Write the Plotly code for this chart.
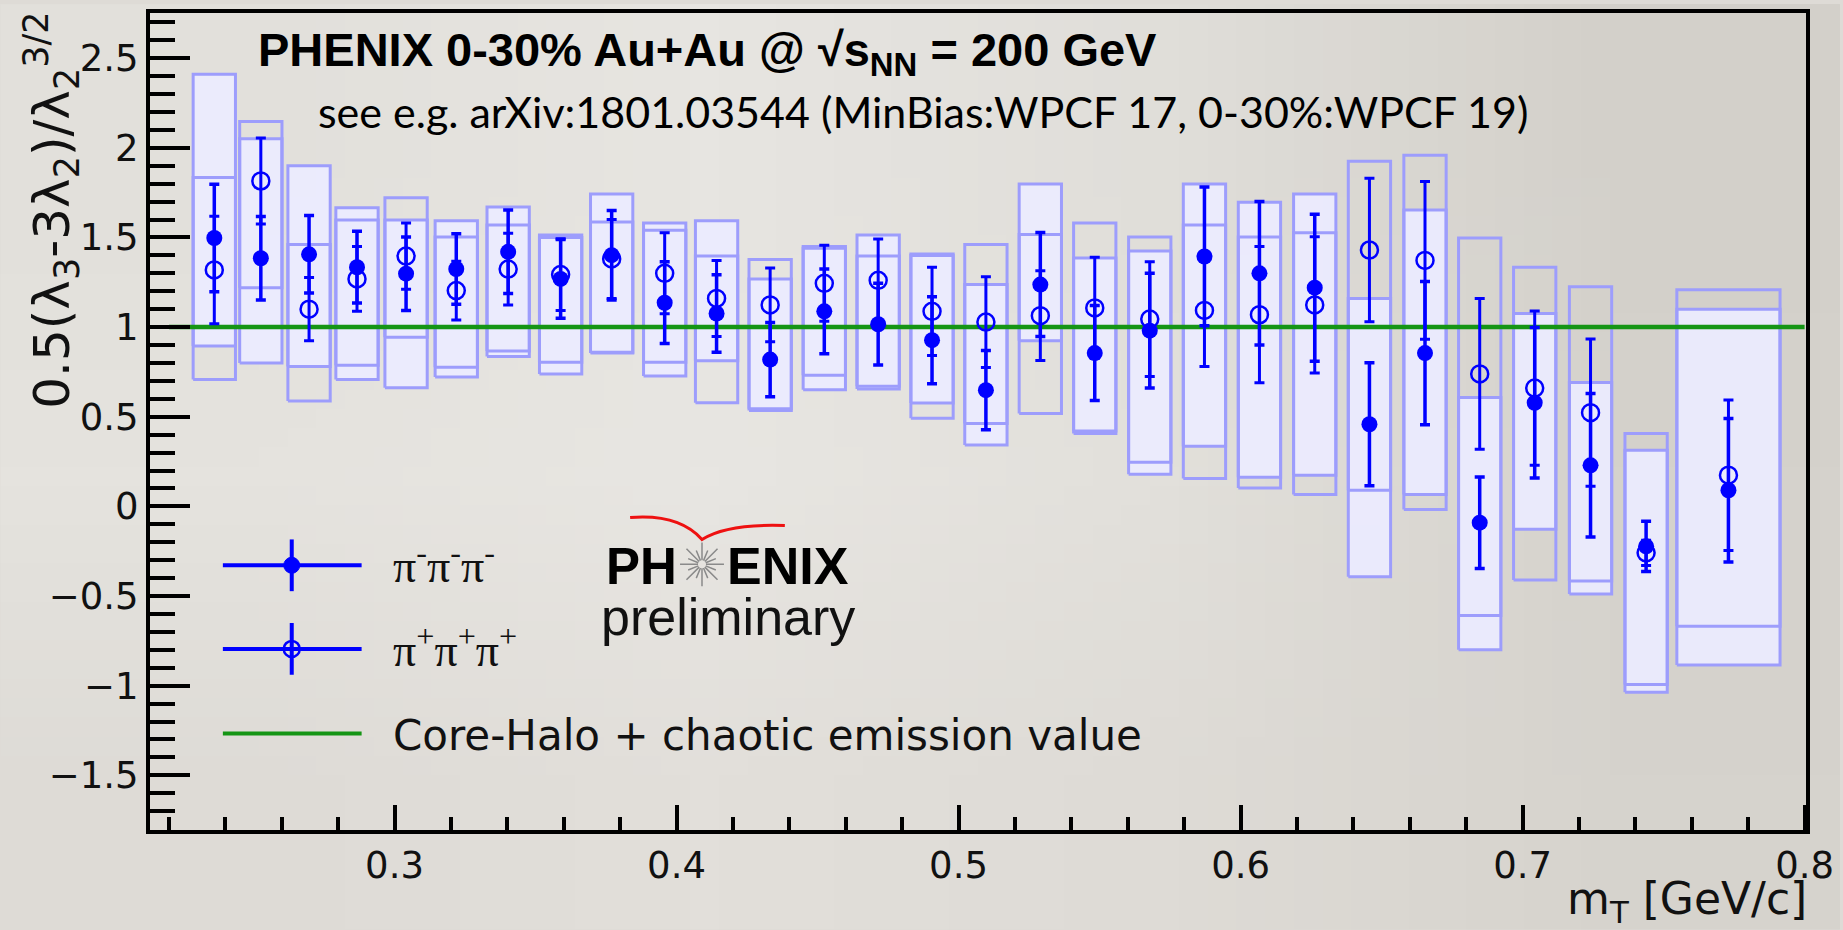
import base64
import math
import struct
import zlib

import plotly.graph_objects as go

# ---------------- data ----------------
mT = [0.2361, 0.2526, 0.2697, 0.2867, 0.3041, 0.3219, 0.3403, 0.3589, 0.3770,
      0.3958, 0.4142, 0.4332, 0.4524, 0.4715, 0.4906, 0.5097, 0.5290, 0.5483,
      0.5678, 0.5872, 0.6067, 0.6263, 0.6457, 0.6654, 0.6848, 0.7043, 0.7241,
      0.7438, 0.7730]

# pi- pi- pi- (filled markers)
neg_val = [1.497, 1.384, 1.406, 1.334, 1.298, 1.324, 1.420, 1.269, 1.401,
           1.136, 1.076, 0.819, 1.088, 1.016, 0.927, 0.648, 1.237, 0.855,
           0.980, 1.394, 1.300, 1.220, 0.458, 0.855, -0.091, 0.578, 0.229,
           -0.223, 0.090]
neg_err = [0.30, 0.233, 0.216, 0.20, 0.205, 0.197, 0.233, 0.22, 0.25,
           0.228, 0.216, 0.207, 0.236, 0.228, 0.243, 0.221, 0.29, 0.265,
           0.32, 0.387, 0.40, 0.41, 0.343, 0.40, 0.255, 0.42, 0.40,
           0.14, 0.40]
neg_sys_lo = [0.895, 0.80, 0.78, 0.708, 0.662, 0.722, 0.836, 0.739, 0.855,
              0.727, 0.812, 0.535, 0.650, 0.655, 0.576, 0.342, 0.924, 0.407,
              0.179, 0.335, 0.162, 0.174, -0.392, 0.066, -0.800, -0.127,
              -0.488, -1.036, -0.885]
neg_sys_hi = [2.411, 2.05, 1.90, 1.666, 1.598, 1.593, 1.670, 1.514, 1.743,
              1.581, 1.593, 1.269, 1.449, 1.514, 1.408, 1.237, 1.798, 1.385,
              1.425, 1.798, 1.697, 1.743, 1.160, 1.653, 0.607, 1.076,
              0.691, 0.313, 1.100]

# pi+ pi+ pi+ (open markers)
pos_val = [1.319, 1.815, 1.100, 1.269, 1.396, 1.204, 1.324, 1.293, 1.38,
           1.300, 1.160, 1.124, 1.244, 1.261, 1.088, 1.028, 1.064, 1.107,
           1.045, 1.093, 1.069, 1.124, 1.430, 1.372, 0.739, 0.660, 0.523,
           -0.259, 0.174]
pos_err = [0.30, 0.24, 0.176, 0.18, 0.185, 0.164, 0.20, 0.20, 0.22,
           0.226, 0.212, 0.205, 0.212, 0.23, 0.246, 0.253, 0.25, 0.282,
           0.32, 0.313, 0.38, 0.38, 0.40, 0.44, 0.42, 0.43, 0.41,
           0.07, 0.42]
pos_sys_lo = [0.708, 1.22, 0.588, 0.787, 0.944, 0.776, 0.867, 0.804, 0.86,
              0.804, 0.578, 0.545, 0.732, 0.67, 0.491, 0.463, 0.518, 0.42,
              0.246, 0.155, 0.102, 0.066, 0.090, -0.018, -0.608, -0.411,
              -0.416, -0.993, -0.668]
pos_sys_hi = [1.834, 2.147, 1.461, 1.598, 1.721, 1.502, 1.569, 1.50, 1.586,
              1.540, 1.396, 1.377, 1.44, 1.396, 1.40, 1.461, 1.516, 1.581,
              1.502, 1.569, 1.502, 1.526, 1.925, 1.959, 1.497, 1.334,
              1.225, 0.407, 1.208]

# half width of the systematic boxes (GeV/c)
sys_dx = [0.0075] * 28 + [0.0183]

core_halo_x = [0.22, 0.8]
core_halo_y = [1.0, 1.0]

# ---------------- geometry helpers ----------------
W, H = 1843, 930
ML, MR, MT, MB = 150, 34, 9, 100
PW = W - ML - MR
PH = H - MT - MB


def px(x):
    return (x - ML) / PW


def py(y):
    return (H - MB - y) / PH


BLUE = "#0000ff"
GREEN = "#159515"
BOX_LINE = "#9d9dfc"
BOX_FILL = "rgba(236,236,255,0.92)"


def make_png(rows):
    h = len(rows)
    w = len(rows[0])
    raw = b"".join(b"\x00" + bytes([c for px_ in r for c in px_]) for r in rows)

    def chunk(tag, data):
        c = struct.pack(">I", len(data)) + tag + data
        return c + struct.pack(">I", zlib.crc32(tag + data) & 0xFFFFFFFF)

    png = b"\x89PNG\r\n\x1a\n"
    png += chunk(b"IHDR", struct.pack(">IIBBBBB", w, h, 8, 2, 0, 0, 0))
    png += chunk(b"IDAT", zlib.compress(raw, 9))
    png += chunk(b"IEND", b"")
    return "data:image/png;base64," + base64.b64encode(png).decode()


bg_rows = [
    [(226, 224, 219), (231, 229, 225), (224, 222, 217), (211, 208, 202)],
    [(229, 227, 222), (232, 230, 226), (226, 224, 219), (213, 210, 204)],
    [(222, 219, 214), (226, 223, 218), (222, 219, 214), (214, 211, 205)],
]


def boxes(lo, hi):
    xs, ys = [], []
    for xc, dx, a, b in zip(mT, sys_dx, lo, hi):
        xs += [xc - dx, xc + dx, xc + dx, xc - dx, xc - dx, None]
        ys += [a, a, b, b, a, None]
    return xs, ys


fig = go.Figure()

bx, by = boxes(neg_sys_lo, neg_sys_hi)
fig.add_trace(go.Scatter(x=bx, y=by, mode="lines", fill="toself",
                         fillcolor=BOX_FILL,
                         line=dict(color=BOX_LINE, width=3),
                         hoverinfo="skip", showlegend=False))
bx, by = boxes(pos_sys_lo, pos_sys_hi)
fig.add_trace(go.Scatter(x=bx, y=by, mode="lines",
                         line=dict(color=BOX_LINE, width=3),
                         hoverinfo="skip", showlegend=False))

fig.add_trace(go.Scatter(x=core_halo_x, y=core_halo_y, mode="lines",
                         line=dict(color=GREEN, width=4.5),
                         name="Core-Halo + chaotic emission value",
                         showlegend=False))

fig.add_trace(go.Scatter(
    x=mT, y=neg_val, mode="markers", name="π-π-π-",
    marker=dict(symbol="circle", size=16, color=BLUE),
    error_y=dict(type="data", array=neg_err, color=BLUE, thickness=3.5, width=5),
    showlegend=False))
fig.add_trace(go.Scatter(
    x=mT, y=pos_val, mode="markers", name="π+π+π+",
    marker=dict(symbol="circle-open", size=17, color=BLUE,
                line=dict(color=BLUE, width=2.5)),
    error_y=dict(type="data", array=pos_err, color=BLUE, thickness=3, width=5),
    showlegend=False))

TICKFONT = dict(family="DejaVu Sans", size=37, color="#111111")

fig.update_layout(
    width=W, height=H,
    margin=dict(l=ML, r=MR, t=MT, b=MB, pad=0),
    paper_bgcolor="#dedbd6",
    plot_bgcolor="rgba(0,0,0,0)",
    showlegend=False,
    xaxis=dict(range=[0.2133, 0.8005], showgrid=False, zeroline=False,
               showline=True, linecolor="black", linewidth=4, mirror=True,
               ticks="inside", ticklen=25, tickwidth=4, tickcolor="black",
               tick0=0, dtick=0.1, tickfont=TICKFONT,
               minor=dict(ticks="inside", ticklen=13, tickwidth=3.5,
                          tickcolor="black", dtick=0.02)),
    yaxis=dict(range=[-1.805, 2.752], showgrid=False, zeroline=False,
               showline=True, linecolor="black", linewidth=4, mirror=True,
               ticks="inside", ticklen=40, tickwidth=4, tickcolor="black",
               tick0=0, dtick=0.5, tickfont=TICKFONT,
               minor=dict(ticks="inside", ticklen=25, tickwidth=4,
                          tickcolor="black", dtick=0.1)),
    images=[dict(source=make_png(bg_rows), xref="paper", yref="paper",
                 x=px(0), y=py(0), sizex=W / PW, sizey=H / PH,
                 xanchor="left", yanchor="top", sizing="stretch",
                 layer="below")],
)

ann = []
ann.append(dict(text="<b>PHENIX 0-30% Au+Au @ √s<sub>NN</sub> = 200 GeV</b>",
                x=px(256), y=py(49), xanchor="left", yanchor="middle",
                font=dict(family="Liberation Sans", size=47, color="black")))
ann.append(dict(text="see e.g. arXiv:1801.03544 (MinBias:WPCF 17, 0-30%:WPCF 19)",
                x=px(316), y=py(108), xanchor="left", yanchor="middle",
                font=dict(family="Lato", size=43, color="black")))
ann.append(dict(text="0.5(λ<sub>3</sub>-3λ<sub>2</sub>)/λ<sub>2</sub><sup>3/2</sup>",
                x=px(51), y=py(6), xanchor="center", yanchor="top",
                textangle=-90,
                font=dict(family="DejaVu Sans", size=50, color="#111111")))
ann.append(dict(text="m<sub>T</sub> [GeV/c]",
                x=px(1812), y=py(902), xanchor="right", yanchor="middle",
                font=dict(family="DejaVu Sans", size=44, color="#111111")))
# legend texts
LEG_Y = [564, 648, 733]
ann.append(dict(text="π<sup>-</sup>π<sup>-</sup>π<sup>-</sup>",
                x=px(391), y=py(LEG_Y[0] - 2), xanchor="left", yanchor="middle",
                font=dict(family="Liberation Serif", size=46, color="#111111")))
ann.append(dict(text="π<sup>+</sup>π<sup>+</sup>π<sup>+</sup>",
                x=px(391), y=py(LEG_Y[1] - 2), xanchor="left", yanchor="middle",
                font=dict(family="Liberation Serif", size=46, color="#111111")))
ann.append(dict(text="Core-Halo + chaotic emission value",
                x=px(391), y=py(LEG_Y[2] + 2), xanchor="left", yanchor="middle",
                font=dict(family="DejaVu Sans", size=42, color="#111111")))
# PHENIX preliminary logo
ann.append(dict(text="<b>PH</b>", x=px(680), y=py(565), xanchor="right",
                yanchor="middle",
                font=dict(family="Liberation Sans", size=51, color="black")))
ann.append(dict(text="<b>ENIX</b>", x=px(726), y=py(565), xanchor="left",
                yanchor="middle",
                font=dict(family="Liberation Sans", size=52, color="black")))
ann.append(dict(text="preliminary", x=px(600), y=py(616), xanchor="left",
                yanchor="middle",
                font=dict(family="Liberation Sans", size=52, color="#111111")))
for a in ann:
    a.update(xref="paper", yref="paper", showarrow=False)
fig.update_layout(annotations=ann)

shapes = []
# legend graphics
for i, ly in enumerate(LEG_Y):
    col = GREEN if i == 2 else BLUE
    shapes.append(dict(type="line", xref="paper", yref="paper",
                       x0=px(223), x1=px(362), y0=py(ly), y1=py(ly),
                       line=dict(color=col, width=4)))
    if i < 2:
        shapes.append(dict(type="line", xref="paper", yref="paper",
                           x0=px(292), x1=px(292), y0=py(ly - 26), y1=py(ly + 26),
                           line=dict(color=BLUE, width=4)))
        r = 8
        if i == 0:
            shapes.append(dict(type="circle", xref="paper", yref="paper",
                               x0=px(292 - r), x1=px(292 + r),
                               y0=py(ly + r), y1=py(ly - r),
                               fillcolor=BLUE, line=dict(color=BLUE, width=1)))
        else:
            shapes.append(dict(type="circle", xref="paper", yref="paper",
                               x0=px(292 - r), x1=px(292 + r),
                               y0=py(ly + r), y1=py(ly - r),
                               fillcolor="rgba(0,0,0,0)",
                               line=dict(color=BLUE, width=2.5)))

# starburst in the PHENIX logo
cx, cy = 703, 563
segs = []
for k in range(16):
    ang = 2 * math.pi * k / 16
    r1 = 4
    r2 = 22 if k % 2 == 0 else 15
    x1, y1 = cx + r1 * math.cos(ang), cy + r1 * math.sin(ang)
    x2, y2 = cx + r2 * math.cos(ang), cy + r2 * math.sin(ang)
    segs.append(f"M{px(x1):.5f},{py(y1):.5f} L{px(x2):.5f},{py(y2):.5f}")
shapes.append(dict(type="path", xref="paper", yref="paper", path=" ".join(segs),
                   line=dict(color="#8a8a8a", width=1.5)))
# red swoosh
sw = (f"M{px(631):.5f},{py(516):.5f} Q{px(680):.5f},{py(512):.5f} "
      f"{px(703):.5f},{py(538):.5f} Q{px(728):.5f},{py(522):.5f} "
      f"{px(786):.5f},{py(524):.5f}")
shapes.append(dict(type="path", xref="paper", yref="paper", path=sw,
                   line=dict(color="#ee1111", width=3)))
fig.update_layout(shapes=shapes)

fig.write_html("out.html")
